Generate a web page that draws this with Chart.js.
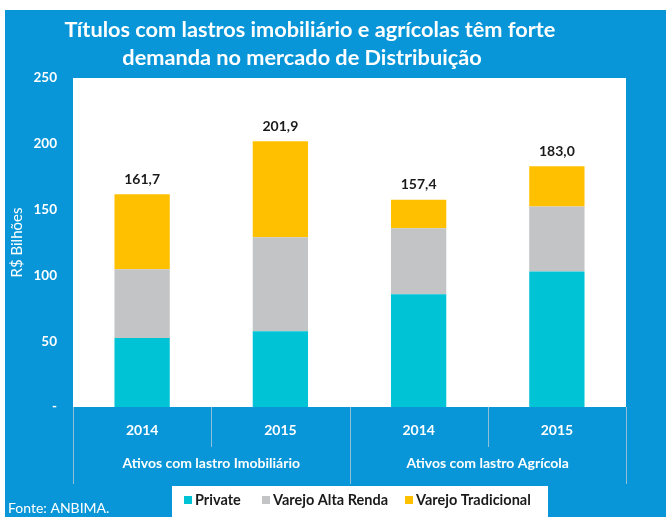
<!DOCTYPE html>
<html>
<head>
<meta charset="utf-8">
<script src="https://cdn.jsdelivr.net/npm/chart.js@4.4.1/dist/chart.umd.min.js"></script>
<style>
  html, body { margin: 0; padding: 0; background: #ffffff; }
  canvas { display: block; }
</style>
</head>
<body>
<canvas id="c" width="666" height="517"></canvas>
<script>
const titleLines = ['Títulos com lastros imobiliário e agrícolas têm forte', 'demanda no mercado de Distribuição'];
const categories = ['2014', '2015', '2014', '2015'];
const groups = ['Ativos com lastro Imobiliário', 'Ativos com lastro Agrícola'];
const seriesNames = ['Private', 'Varejo Alta Renda', 'Varejo Tradicional'];
const privateVals = [52.5, 57.6, 85.6, 103.0];
const altaRendaVals = [52.1, 71.4, 50.2, 49.3];
const tradicionalVals = [57.1, 72.9, 21.6, 30.7];
const totalLabels = ['161,7', '201,9', '157,4', '183,0'];
const yTickValues = [0, 50, 100, 150, 200, 250];
const yAxisTitle = 'R$ Bilhões';
const sourceText = 'Fonte: ANBIMA.';

const COLORS = ['#00c3d6', '#c3c4c6', '#ffc000'];
const BLUE = '#0896d8';
const FONT = 'Lato, "Open Sans", sans-serif';

const overlay = {
  id: 'overlay',
  beforeDraw(chart) {
    const ctx = chart.ctx, a = chart.chartArea;
    ctx.save();
    ctx.fillStyle = '#ffffff';
    ctx.fillRect(0, 0, chart.width, chart.height);
    ctx.fillStyle = BLUE;
    ctx.fillRect(5, 10, chart.width - 5, chart.height - 10);
    ctx.fillStyle = '#ffffff';
    ctx.fillRect(a.left, a.top, a.right - a.left, a.bottom - a.top);
    ctx.restore();
  },
  afterDraw(chart) {
    const ctx = chart.ctx, a = chart.chartArea;
    const xs = chart.scales.x, ys = chart.scales.y;
    ctx.save();
    // Title
    ctx.fillStyle = '#ffffff';
    ctx.textAlign = 'center';
    ctx.textBaseline = 'middle';
    ctx.font = 'bold 20px ' + FONT;
    const w0 = ctx.measureText(titleLines[0]).width;
    const fs = 20 * 491 / w0;
    ctx.font = 'bold ' + fs.toFixed(2) + 'px ' + FONT;
    ctx.fillText(titleLines[0], 310, 30);
    ctx.fillText(titleLines[1], 302, 58);

    // Category dividers
    const n = categories.length;
    const cw = (xs.right - xs.left) / n;
    ctx.strokeStyle = 'rgba(190,205,215,0.75)';
    ctx.lineWidth = 1;
    for (let k = 0; k <= n; k++) {
      const x = Math.round(xs.left + k * cw) + 0.5;
      ctx.beginPath();
      ctx.moveTo(x, a.bottom);
      ctx.lineTo(x, k % 2 === 0 ? 484 : 447);
      ctx.stroke();
    }
    // Group labels
    ctx.fillStyle = '#ffffff';
    ctx.font = 'bold 14px ' + FONT;
    groups.forEach((g, i) => {
      ctx.fillText(g, xs.left + cw * (2 * i + 1), 463);
    });

    // Totals
    ctx.fillStyle = '#1a1a1a';
    ctx.font = 'bold 14px ' + FONT;
    categories.forEach((c, i) => {
      let total = 0;
      chart.data.datasets.forEach(ds => { total += ds.data[i]; });
      ctx.fillText(totalLabels[i], xs.getPixelForValue(i), ys.getPixelForValue(total) - 15);
    });

    // Legend box
    ctx.fillStyle = '#ffffff';
    ctx.fillRect(172, 486, 376, 31);
    const legendX = [184, 262, 405];
    ctx.textAlign = 'left';
    ctx.font = 'bold 14.5px ' + FONT;
    chart.data.datasets.forEach((ds, i) => {
      ctx.fillStyle = ds.backgroundColor;
      ctx.fillRect(legendX[i], 496, 8, 8);
      ctx.fillStyle = '#1a1a1a';
      ctx.fillText(ds.label, legendX[i] + 11, 500.5);
    });

    // Source
    ctx.fillStyle = '#ffffff';
    ctx.font = '14px ' + FONT;
    ctx.fillText(sourceText, 8, 508);
    ctx.restore();
  }
};

new Chart(document.getElementById('c'), {
  type: 'bar',
  data: {
    labels: categories,
    datasets: [
      { label: seriesNames[0], data: privateVals, backgroundColor: COLORS[0] },
      { label: seriesNames[1], data: altaRendaVals, backgroundColor: COLORS[1] },
      { label: seriesNames[2], data: tradicionalVals, backgroundColor: COLORS[2] }
    ]
  },
  options: {
    responsive: false,
    animation: false,
    events: [],
    layout: { padding: { left: 5, top: 78, right: 40, bottom: 0 } },
    datasets: { bar: { barPercentage: 0.4, categoryPercentage: 1.0 } },
    plugins: { legend: { display: false }, title: { display: false }, tooltip: { enabled: false } },
    scales: {
      x: {
        stacked: true,
        grid: { display: false, drawTicks: false },
        border: { display: false },
        ticks: { color: '#ffffff', font: { family: FONT, size: 14, weight: 'bold' }, padding: 15 },
        afterFit(s) { s.height = 110; }
      },
      y: {
        stacked: true,
        min: 0, max: 250,
        afterBuildTicks(s) { s.ticks = yTickValues.map(v => ({ value: v })); },
        grid: { display: false, drawTicks: false },
        border: { display: false },
        ticks: {
          color: '#ffffff', font: { family: FONT, size: 13.5, weight: 'bold' }, padding: 16,
          callback: v => (v === 0 ? '-' : String(v))
        },
        title: {
          display: true, text: yAxisTitle, color: '#ffffff',
          font: { family: FONT, size: 15, weight: 'normal' }, padding: { top: 3, bottom: 0 }
        },
        afterFit(s) { s.width = 68; }
      }
    }
  },
  plugins: [overlay]
});
</script>
</body>
</html>
